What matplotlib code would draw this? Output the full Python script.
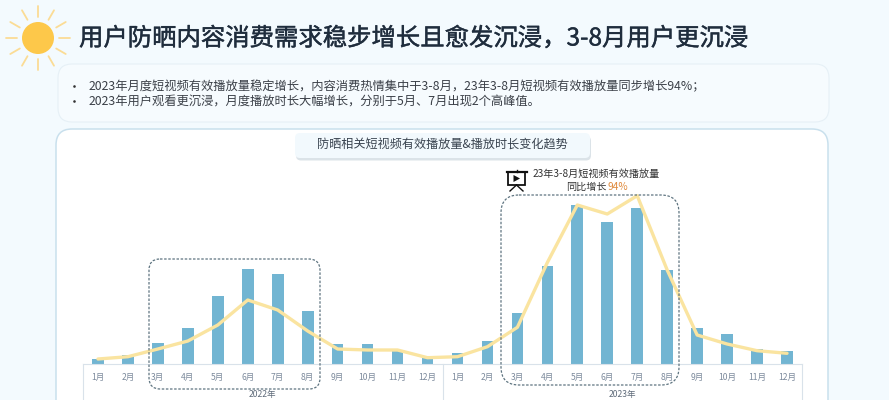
import numpy as np
import matplotlib
matplotlib.use('Agg')
import matplotlib.pyplot as plt
import matplotlib.patheffects as pe
from matplotlib.patches import FancyBboxPatch, Circle, Rectangle, Polygon

plt.rcParams['font.family'] = ['Noto Sans CJK SC', 'DejaVu Sans']

# data
months = ['1月', '2月', '3月', '4月', '5月', '6月', '7月', '8月', '9月', '10月', '11月', '12月']
years = ['2022年', '2023年']
plays = [4.8, 9, 20.5, 35.5, 67.5, 95, 89.5, 52.8, 19.8, 19.8, 12.5, 5.2,
         10.2, 22.5, 50.2, 97.5, 158.5, 141.8, 155.8, 93.8, 35.5, 29.5, 14.5, 12.5]
duration = [4.5, 6.8, 14.5, 22.5, 38.5, 63.5, 53.5, 32.5, 14.5, 13.5, 13.5, 5.8,
            6.8, 16.8, 36.2, 101, 158.5, 149.5, 167.8, 93.5, 28.5, 19.5, 12.8, 10.2]

title = '用户防晒内容消费需求稳步增长且愈发沉浸，3-8月用户更沉浸'
bullets = ['2023年月度短视频有效播放量稳定增长，内容消费热情集中于3-8月，23年3-8月短视频有效播放量同步增长94%；',
           '2023年用户观看更沉浸，月度播放时长大幅增长，分别于5月、7月出现2个高峰值。']
chart_title = '防晒相关短视频有效播放量&播放时长变化趋势'

W, H = 889, 400
fig = plt.figure(figsize=(W / 100, H / 100), dpi=100, facecolor='#F3FAFE')

# 背景层，坐标直接用像素
bg = fig.add_axes([0, 0, 1, 1])
bg.set_xlim(0, W)
bg.set_ylim(H, 0)
bg.axis('off')


def round_box(ax, x0, y0, x1, y1, r, **kw):
    p = FancyBboxPatch((x0 + r, y0 + r), x1 - x0 - 2 * r, y1 - y0 - 2 * r,
                       boxstyle='round,pad=%f,rounding_size=%f' % (r, r), **kw)
    ax.add_patch(p)
    return p


# 太阳
bg.add_patch(Circle((38, 38), 16, fc='#FDC84A', ec='none'))
for a in np.arange(0, 360, 30):
    c, s = np.cos(np.radians(a)), np.sin(np.radians(a))
    bg.plot([38 + 21 * c, 38 + 32 * c], [38 + 21 * s, 38 + 32 * s], color='#FBDC95', lw=1.3,
            solid_capstyle='round')

t = bg.text(79, 38.5, title, fontsize=17.55, color='#1F2D3D', va='center', ha='left')
t.set_path_effects([pe.withStroke(linewidth=0.3, foreground='#1F2D3D')])

# 要点框
round_box(bg, 58, 64, 829, 122, 14, fc='#F6FBFE', ec='#E6F0F6', lw=0.8)
for yy, s in zip([87, 102], bullets):
    bg.add_patch(Circle((74.5, yy - 0.5), 1.3, fc='#333333', ec='none'))
    bg.text(88.5, yy, s, fontsize=8.85, color='#3A3F47', va='center')

# 图表白底
round_box(bg, 56, 129, 828, 430, 16, fc='white', ec='#C9E0ED', lw=1.1)

# 小标题
round_box(bg, 296, 136, 591, 160.5, 5, fc='#D3DCE3', ec='none', alpha=0.8)
round_box(bg, 295, 133, 590, 158, 5, fc='#F2F9FD', ec='none')
bg.text(442, 144.5, chart_title, fontsize=8.72, color='#3A4450', ha='center', va='center')

# 柱线图
left, right, base, top = 83, 802, 363.5, 160
ax = fig.add_axes([left / W, (H - base) / H, (right - left) / W, (base - top) / H])
ax.patch.set_alpha(0)
x = np.arange(len(plays))
ax.bar(x, plays, width=0.39, color='#72B5D2')
ax.plot(x, duration, color='#FAE4A0', lw=2.4, solid_joinstyle='round', solid_capstyle='round')
ax.set_xlim(-0.5, 23.5)
ax.set_ylim(0, base - top)
ax.set_yticks([])
ax.set_xticks(x)
ax.set_xticklabels(months * 2, fontsize=6.2, color='#7C8A9C')
ax.tick_params(axis='x', length=0, pad=6.5)
for k in ['top', 'left', 'right']:
    ax.spines[k].set_visible(False)
ax.spines['bottom'].set_color('#D9E2EA')
ax.spines['bottom'].set_linewidth(0.8)

# 前景层：年份分隔线、虚线框、说明
fg = fig.add_axes([0, 0, 1, 1])
fg.set_xlim(0, W)
fg.set_ylim(H, 0)
fg.axis('off')
fg.patch.set_alpha(0)
for vx in [83, 442.5, 802]:
    fg.plot([vx, vx], [363.5, 400], color='#D9E2EA', lw=0.8)
fg.text(262.5, 395, years[0], fontsize=6.2, color='#5F6B7A', ha='center', va='center')
fg.text(622, 395, years[1], fontsize=6.2, color='#5F6B7A', ha='center', va='center')

round_box(fg, 149, 259, 320, 389, 11, fc='none', ec='#5E7480', lw=0.9, ls=(0, (2, 1.3)))
round_box(fg, 501, 195, 679, 385, 18, fc='none', ec='#5E7480', lw=0.9, ls=(0, (2, 1.3)))

# 放映图标
fg.add_patch(Rectangle((508, 172), 17, 13, fc='white', ec='#111111', lw=1.3))
fg.plot([506.5, 526.5], [172, 172], color='#111111', lw=1.6)
fg.add_patch(Polygon([[513.5, 175], [513.5, 182], [520, 178.5]], fc='#111111', ec='none'))
fg.plot([516.5, 516.5], [170, 172], color='#111111', lw=1)
fg.plot([516.5, 510], [185, 191], color='#111111', lw=1)
fg.plot([516.5, 523], [185, 191], color='#111111', lw=1)

fg.text(596.5, 174, '23年3-8月短视频有效播放量', fontsize=7.25, color='#333333', ha='center', va='center')
fg.text(607, 186.5, '同比增长', fontsize=7.25, color='#333333', ha='right', va='center')
fg.text(607, 186.5, '94%', fontsize=7.25, color='#E08A3C', ha='left', va='center')

fig.savefig('out.png', dpi=100, facecolor=fig.get_facecolor())
